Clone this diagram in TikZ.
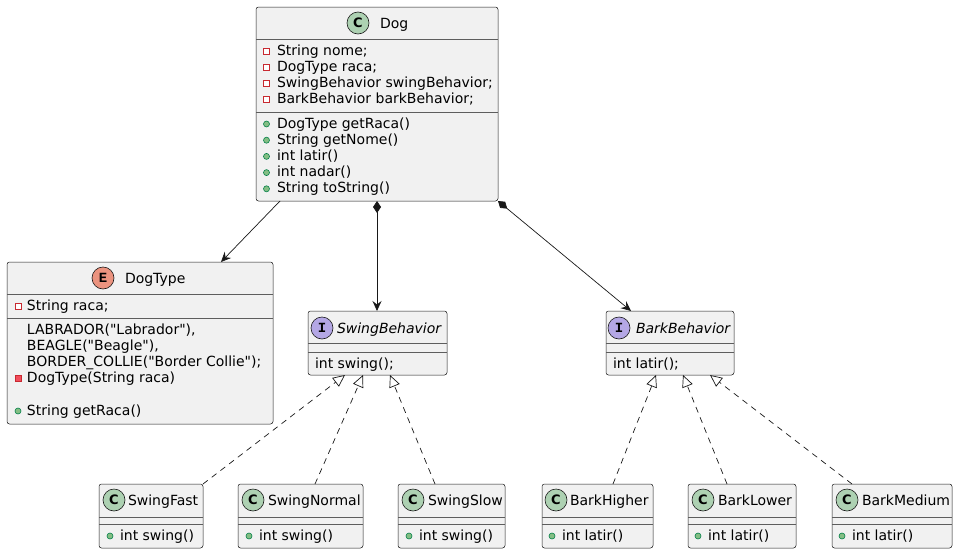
\documentclass[tikz,border=0pt]{standalone}
\usepackage{fontspec}
\setmainfont{DejaVu Sans}[Ligatures=TeXOff]
\newfontfamily\spotmono{Liberation Mono}
\usetikzlibrary{arrows.meta}
\definecolor{linec}{HTML}{181818}
\definecolor{boxfill}{HTML}{F1F1F1}
\definecolor{cfill}{HTML}{ADD1B2}
\definecolor{efill}{HTML}{EB937F}
\definecolor{ifill}{HTML}{B4A7E5}
\definecolor{privred}{HTML}{C82930}
\definecolor{privfill}{HTML}{F24D5C}
\definecolor{pubgreen}{HTML}{038048}
\definecolor{pubfill}{HTML}{84BE84}
\tikzset{
  box/.style={draw=linec, fill=boxfill, line width=0.5pt, rounded corners=2.5pt, inner sep=0pt, outer sep=0pt, anchor=north west},
  txt/.style={inner sep=0pt, outer sep=0pt, anchor=base west, font=\fontsize{14}{16}\selectfont, text=black},
  itxt/.style={txt, font=\fontsize{14}{16}\selectfont\itshape},
  spotc/.style={circle, draw=linec, fill=cfill, line width=0.6pt, minimum size=22pt, inner sep=0pt, font=\fontsize{13}{13}\selectfont\bfseries},
  spote/.style={spotc, fill=efill, font=\fontsize{14}{14}\selectfont\spotmono\bfseries},
  spoti/.style={spotc, fill=ifill, font=\fontsize{14}{14}\selectfont\spotmono\bfseries},
  privf/.style={rectangle, draw=privred, fill=white, minimum size=6pt, inner sep=0pt, line width=0.7pt},
  privm/.style={privf, fill=privfill},
  pubm/.style={circle, draw=pubgreen, fill=pubfill, minimum size=6pt, inner sep=0pt, line width=0.6pt},
  sepline/.style={draw=linec!70, line width=0.5pt},
  assoc/.style={draw=linec, line width=0.7pt, -{Stealth[length=10pt,width=9pt,inset=3.5pt]}},
  comp/.style={draw=linec, line width=0.7pt, {Diamond[length=12pt,width=8pt]}-{Stealth[length=10pt,width=9pt,inset=3.5pt]}},
  realize/.style={draw=linec, line width=0.7pt, dash pattern=on 6pt off 5pt, -{Triangle[open, length=12pt, width=11pt, fill=white]}}
}
\begin{document}
\begin{tikzpicture}[x=1pt,y=-1pt]
\useasboundingbox (0,0) rectangle (958,554);

% ---------- Dog ----------
\node[box, minimum width=242pt, minimum height=194pt] (dog) at (256,7) {};
\draw[sepline] ([yshift=-32pt]dog.north west) -- ([yshift=-32pt]dog.north east);
\draw[sepline] ([yshift=-105pt]dog.north west) -- ([yshift=-105pt]dog.north east);
\node[spotc] (dogspot) at (358,23) {C};
\node[txt] (dogtitle) at (380,28) {Dog};
\node[privf] (dogi1) at (266.5,51) {};
\node[txt] (doga1) at (277,55) {String nome;};
\node[privf] (dogi2) at (266.5,67.2) {};
\node[txt] (doga2) at (277,71.2) {DogType raca;};
\node[privf] (dogi3) at (266.5,83.4) {};
\node[txt] (doga3) at (277,87.4) {SwingBehavior swingBehavior;};
\node[privf] (dogi4) at (266.5,99.6) {};
\node[txt] (doga4) at (277,103.6) {BarkBehavior barkBehavior;};
\node[pubm] (dogm1i) at (266.5,124) {};
\node[txt] (dogm1) at (277,128) {DogType getRaca()};
\node[pubm] (dogm2i) at (266.5,140.2) {};
\node[txt] (dogm2) at (277,144.2) {String getNome()};
\node[pubm] (dogm3i) at (266.5,156.4) {};
\node[txt] (dogm3) at (277,160.4) {int latir()};
\node[pubm] (dogm4i) at (266.5,172.6) {};
\node[txt] (dogm4) at (277,176.6) {int nadar()};
\node[pubm] (dogm5i) at (266.5,188.8) {};
\node[txt] (dogm5) at (277,192.8) {String toString()};

% ---------- DogType ----------
\node[box, minimum width=266pt, minimum height=162pt] (dogtype) at (7,262) {};
\draw[sepline] ([yshift=-32pt]dogtype.north west) -- ([yshift=-32pt]dogtype.north east);
\draw[sepline] ([yshift=-56pt]dogtype.north west) -- ([yshift=-56pt]dogtype.north east);
\node[spote] (dtspot) at (103,278) {E};
\node[txt] (dttitle) at (125,283) {DogType};
\node[privf] (dti1) at (18,306) {};
\node[txt] (dta1) at (27,310) {String raca;};
\node[txt] (dte1) at (27,334) {LABRADOR("Labrador"),};
\node[txt] (dte2) at (27,350.2) {BEAGLE("Beagle"),};
\node[txt] (dte3) at (27,366.4) {BORDER\_COLLIE("Border Collie");};
\node[privm] (dtm1i) at (18,378.6) {};
\node[txt] (dtm1) at (27,382.6) {DogType(String raca)};
\node[pubm] (dtm2i) at (18,411) {};
\node[txt] (dtm2) at (27,415) {String getRaca()};

% ---------- SwingBehavior ----------
\node[box, minimum width=139pt, minimum height=64pt] (swing) at (308,311) {};
\draw[sepline] ([yshift=-32pt]swing.north west) -- ([yshift=-32pt]swing.north east);
\draw[sepline] ([yshift=-41pt]swing.north west) -- ([yshift=-41pt]swing.north east);
\node[spoti] (swspot) at (322,328) {I};
\node[itxt] (swtitle) at (337,333) {SwingBehavior};
\node[txt] (swm) at (315,368) {int swing();};

% ---------- BarkBehavior ----------
\node[box, minimum width=128pt, minimum height=64pt] (bark) at (606,311) {};
\draw[sepline] ([yshift=-32pt]bark.north west) -- ([yshift=-32pt]bark.north east);
\draw[sepline] ([yshift=-41pt]bark.north west) -- ([yshift=-41pt]bark.north east);
\node[spoti] (bkspot) at (619,328) {I};
\node[itxt] (bktitle) at (636,333) {BarkBehavior};
\node[txt] (bkm) at (613,368) {int latir();};

% ---------- bottom classes ----------
\foreach \nm/\x/\w/\cx/\tx/\ix/\title/\meth in {
  swingfast/99/104/114/128/110/SwingFast/int swing(),
  swingnormal/238/125/253/268/249/SwingNormal/int swing(),
  swingslow/398/107/413/428/409/SwingSlow/int swing(),
  barkhigher/542/111/556/570/552/BarkHigher/int latir(),
  barklower/688/108/703/718/698/BarkLower/int latir(),
  barkmedium/832/120/847/862/842/BarkMedium/int latir()}{
  \node[box, minimum width=\w pt, minimum height=64pt] (\nm) at (\x,484) {};
  \draw[sepline] ([yshift=-33pt]\nm.north west) -- ([yshift=-33pt]\nm.north east);
  \draw[sepline] ([yshift=-40pt]\nm.north west) -- ([yshift=-40pt]\nm.north east);
  \node[spotc] (\nm spot) at (\cx,500) {C};
  \node[txt] (\nm title) at (\tx,505) {\title};
  \node[pubm] (\nm icon) at (\ix,536) {};
  \node[txt] (\nm meth) at (\ix+10,540) {\meth};
}

% ---------- connectors ----------
\draw[assoc] ([xshift=24pt]dog.south west) -- ([xshift=214pt]dogtype.north west);
\draw[comp] ([xshift=121pt]dog.south west) -- ([xshift=69pt]swing.north west);
\draw[comp] (dog.south east) -- ([xshift=25pt]bark.north west);

\draw[realize] (swingfast.north east) -- ([xshift=37pt]swing.south west);
\draw[realize] ([xshift=77pt]swingnormal.north west) -- ([xshift=55pt]swing.south west);
\draw[realize] ([xshift=37pt]swingslow.north west) -- ([xshift=82pt]swing.south west);
\draw[realize] ([xshift=71pt]barkhigher.north west) -- ([xshift=50pt]bark.south west);
\draw[realize] ([xshift=39pt]barklower.north west) -- ([xshift=77pt]bark.south west);
\draw[realize] ([xshift=20pt]barkmedium.north west) -- ([xshift=104pt]bark.south west);
\end{tikzpicture}
\end{document}
